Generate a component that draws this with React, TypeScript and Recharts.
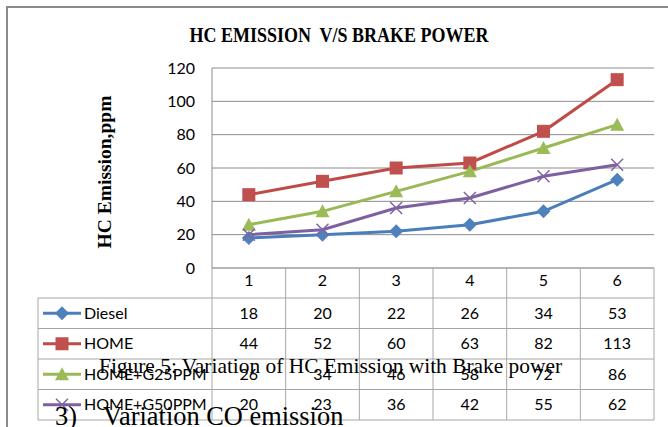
import { LineChart, Line, XAxis, YAxis, CartesianGrid } from "recharts";

const categories = ["1", "2", "3", "4", "5", "6"];
const diesel = [18, 20, 22, 26, 34, 53];
const home = [44, 52, 60, 63, 82, 113];
const homeG25 = [26, 34, 46, 58, 72, 86];
const homeG50 = [20, 23, 36, 42, 55, 62];
const yTicks = [0, 20, 40, 60, 80, 100, 120];

const SERIES = [
  { key: "diesel", name: "Diesel", values: diesel, line: "#4a7ebb", mark: "#4f81bd", shape: "diamond" },
  { key: "home", name: "HOME", values: home, line: "#be4b48", mark: "#c0504d", shape: "square" },
  { key: "g25", name: "HOME+G25PPM", values: homeG25, line: "#98b954", mark: "#9bbb59", shape: "triangle" },
  { key: "g50", name: "HOME+G50PPM", values: homeG50, line: "#7d60a0", mark: "#8064a2", shape: "x" },
];

const rows = categories.map((c, i) => ({
  bp: c,
  diesel: diesel[i],
  home: home[i],
  g25: homeG25[i],
  g50: homeG50[i],
}));

// plot box
const PL = 212;
const PR = 654;
const PT = 68;
const PB = 268;
const COL = (PR - PL) / categories.length;
const TABLE_L = 38;
const ROW_TOPS = [298, 328.5, 359, 389.5];
const ROW_H = 30.5;
const TABLE_B = ROW_TOPS[3] + ROW_H;

const SANS = "Lato, 'Open Sans', sans-serif";
const SERIF = "'Liberation Serif', 'DejaVu Serif', serif";
const GRID = "#8c8c8c";
const TLINE = "#a6a6a6";

function Marker({ shape, color, cx, cy }: { shape: string; color: string; cx: number; cy: number }) {
  if (shape === "diamond") {
    const r = 7;
    return <path d={`M${cx},${cy - r}L${cx + r},${cy}L${cx},${cy + r}L${cx - r},${cy}Z`} fill={color} />;
  }
  if (shape === "square") {
    const s = 6.5;
    return <rect x={cx - s} y={cy - s} width={s * 2} height={s * 2} fill={color} />;
  }
  if (shape === "triangle") {
    return <path d={`M${cx},${cy - 7}L${cx + 7},${cy + 6}L${cx - 7},${cy + 6}Z`} fill={color} />;
  }
  const r = 6;
  return (
    <path
      d={`M${cx - r},${cy - r}L${cx + r},${cy + r}M${cx + r},${cy - r}L${cx - r},${cy + r}`}
      stroke={color}
      strokeWidth={1.5}
      fill="none"
    />
  );
}

export default function App() {
  return (
    <div
      style={{
        position: "absolute",
        left: 0,
        top: 0,
        width: 668,
        height: 427,
        background: "#fff",
        overflow: "hidden",
      }}
    >
      <div
        style={{
          position: "absolute",
          left: 6,
          top: 6,
          width: 720,
          height: 500,
          borderLeft: "2px solid #8a8a8a",
          borderTop: "2px solid #8a8a8a",
        }}
      />

      <div
        style={{
          position: "absolute",
          left: 105,
          top: 172,
          transform: "translate(-50%, -50%) rotate(-90deg)",
          fontFamily: SERIF,
          fontWeight: 700,
          fontSize: 19.5,
          whiteSpace: "nowrap",
        }}
      >
        HC Emission,ppm
      </div>

      <div style={{ position: "absolute", left: 0, top: 0 }}>
        <LineChart
          width={668}
          height={427}
          data={rows}
          margin={{ top: PT, right: 668 - PR, bottom: 427 - PB - 30, left: PL - 60 }}
        >
          <CartesianGrid vertical={false} stroke={GRID} />
          <XAxis
            dataKey="bp"
            height={30}
            interval={0}
            padding={{ left: COL / 2, right: COL / 2 }}
            axisLine={{ stroke: TLINE }}
            tickLine={false}
            tickSize={0}
            tickMargin={7}
            tick={{ fill: "#000", fontSize: 16, fontFamily: SANS }}
          />
          <YAxis
            width={60}
            domain={[0, 120]}
            ticks={yTicks}
            interval={0}
            axisLine={{ stroke: GRID }}
            tickLine={false}
            tickSize={0}
            tickMargin={17}
            tick={{ fill: "#000", fontSize: 16, fontFamily: SANS }}
          />
          {SERIES.map((s) => (
            <Line
              key={s.key}
              dataKey={s.key}
              name={s.name}
              stroke={s.line}
              strokeWidth={3}
              isAnimationActive={false}
              dot={(p: any) => (
                <Marker key={`${s.key}-${p.index}`} shape={s.shape} color={s.mark} cx={p.cx} cy={p.cy} />
              )}
              activeDot={false}
            />
          ))}
        </LineChart>
      </div>

      {/* title, data table under the plot, page text */}
      <svg width={668} height={427} style={{ position: "absolute", left: 0, top: 0 }}>
        <text
          x={339}
          y={42}
          textAnchor="middle"
          fontFamily={SERIF}
          fontWeight={700}
          fontSize={18}
          fill="#000"
          transform="translate(0,42) scale(1,1.2) translate(0,-42)"
          xmlSpace="preserve"
        >
          {"HC EMISSION  V/S BRAKE POWER"}
        </text>
        {[...ROW_TOPS, TABLE_B].map((y) => (
          <line key={`h${y}`} x1={TABLE_L} x2={PR} y1={y} y2={y} stroke={TLINE} />
        ))}
        <line x1={TABLE_L} x2={TABLE_L} y1={ROW_TOPS[0]} y2={TABLE_B} stroke={TLINE} />
        {categories.concat([""]).map((_, i) => (
          <line
            key={`v${i}`}
            x1={PL + i * COL}
            x2={PL + i * COL}
            y1={PB}
            y2={TABLE_B}
            stroke={TLINE}
          />
        ))}
        {SERIES.map((s, r) => {
          const cy = ROW_TOPS[r] + ROW_H / 2;
          return (
            <g key={s.key}>
              <line x1={43} x2={81} y1={cy} y2={cy} stroke={s.line} strokeWidth={3} />
              <Marker shape={s.shape} color={s.mark} cx={62} cy={cy} />
              <text x={84} y={cy} dy="0.35em" fontFamily={SANS} fontSize={16} fill="#000">
                {s.name}
              </text>
              {s.values.map((v, i) => (
                <text
                  key={i}
                  x={PL + i * COL + COL / 2}
                  y={cy}
                  dy="0.35em"
                  textAnchor="middle"
                  fontFamily={SANS}
                  fontSize={16}
                  fill="#000"
                >
                  {v}
                </text>
              ))}
            </g>
          );
        })}
        <text x={99} y={373} fontFamily={SERIF} fontSize={21.4} fill="#000">
          Figure 5: Variation of HC Emission with Brake power
        </text>
        <text x={55} y={425} fontFamily={SERIF} fontSize={26.4} fill="#000" xmlSpace="preserve">
          {"3)    Variation CO emission"}
        </text>
      </svg>
    </div>
  );
}
